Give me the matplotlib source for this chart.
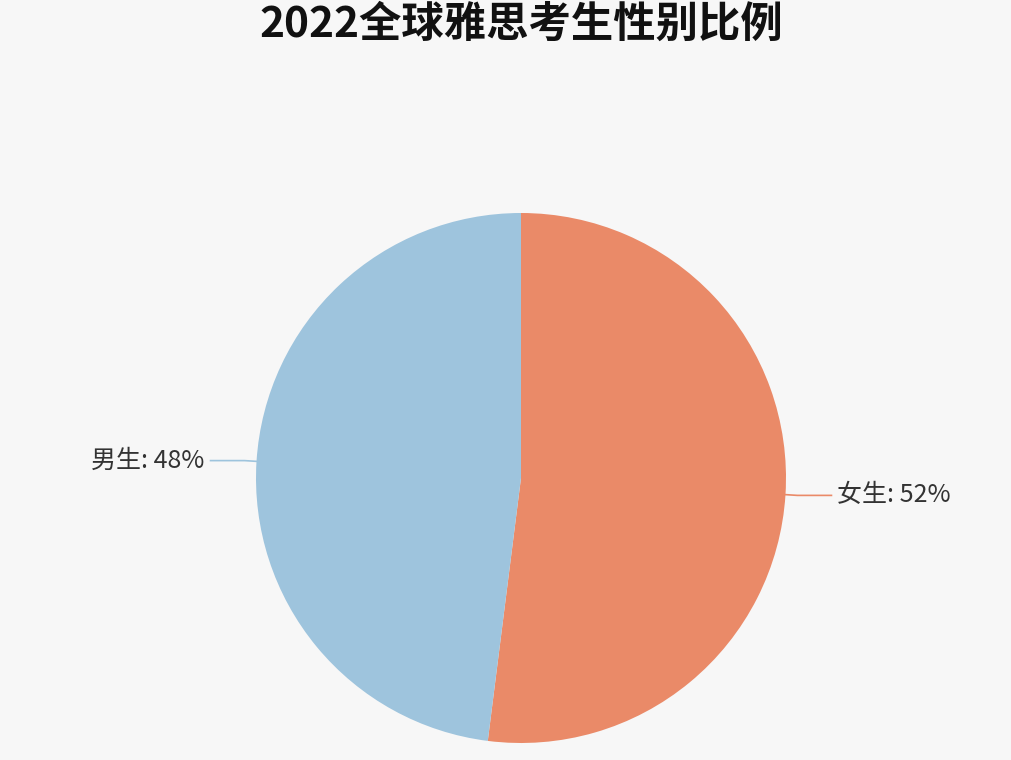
import numpy as np
import matplotlib.pyplot as plt

plt.rcParams['font.family'] = ['Noto Sans CJK SC', 'DejaVu Sans']

labels = ['女生', '男生']
shares = [52, 48]
colors = ['#EA8A68', '#9EC4DD']
title = '2022全球雅思考生性别比例'

W, H = 1011, 760
fig = plt.figure(figsize=(W / 100, H / 100), dpi=100, facecolor='#F7F7F7')
ax = fig.add_axes([0, 0, 1, 1])

cx, cy, r = 521, H - 478, 265
wedges, _ = ax.pie(shares, colors=colors, startangle=90, counterclock=False,
                   center=(cx, cy), radius=r, frame=True,
                   wedgeprops=dict(linewidth=0))
ax.set_xlim(0, W)
ax.set_ylim(0, H)
ax.set_aspect('equal')
ax.axis('off')

# label lines: short radial piece then horizontal piece
for w, lab, val, col in zip(wedges, labels, shares, colors):
    ang = np.deg2rad((w.theta1 + w.theta2) / 2)
    x0, y0 = cx + r * np.cos(ang), cy + r * np.sin(ang)
    x1, y1 = cx + (r + 12) * np.cos(ang), cy + (r + 12) * np.sin(ang)
    side = 1 if np.cos(ang) >= 0 else -1
    x2 = x1 + side * 34
    ax.plot([x0, x1, x2], [y0, y1, y1], color=col, lw=1.2)
    ax.text(x2 + side * 6, y1, f'{lab}: {val}%', fontsize=18, color='#333333',
            ha='left' if side > 0 else 'right', va='center')

fig.text(521.5 / W, 1 - 25 / H, title, fontsize=30.5, fontweight='bold',
         ha='center', va='center', color='#111111')

fig.savefig('out.png', dpi=100, facecolor=fig.get_facecolor())
